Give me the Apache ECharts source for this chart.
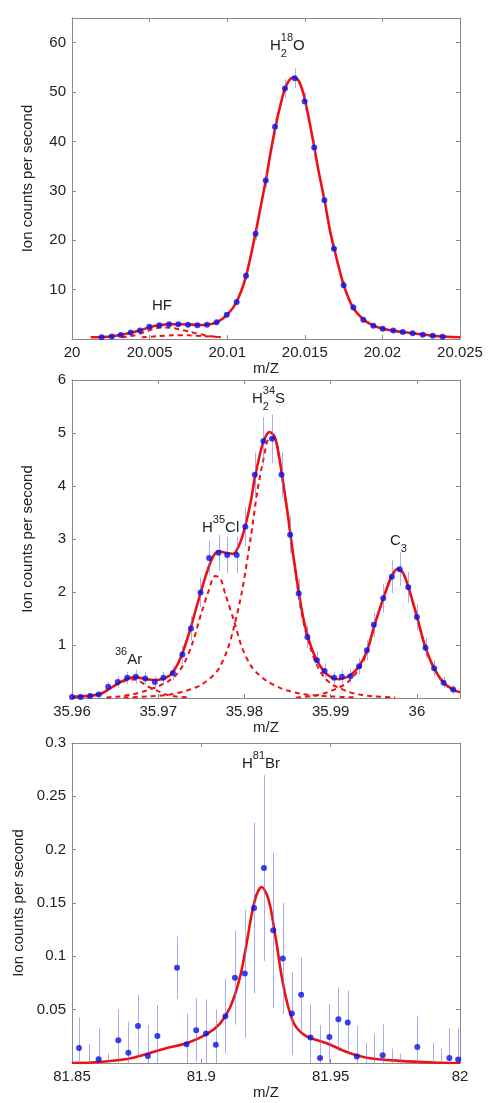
<!DOCTYPE html>
<html>
<head>
<meta charset="utf-8">
<title>Mass peaks</title>
<script src="https://cdn.jsdelivr.net/npm/echarts@6.0.0/dist/echarts.min.js"></script>
<style>
  html, body { margin: 0; padding: 0; background: #fff; }
  #chart { width: 500px; height: 1103px; }
</style>
</head>
<body>
<div id="chart"></div>
<script>
// ---- panel 1 : HF + H2 18O around m/Z 20 ----
var p1X = [20.00191, 20.00256, 20.00314, 20.00378, 20.00438, 20.00498, 20.00563, 20.00625, 20.00685, 20.00747, 20.00808, 20.0087, 20.00932, 20.00997, 20.01061, 20.01121, 20.01183, 20.01248, 20.01308, 20.01372, 20.01435, 20.01499, 20.01561, 20.01626, 20.01688, 20.0175, 20.01813, 20.01877, 20.01942, 20.02002, 20.0207, 20.02131, 20.02195, 20.0226, 20.02324, 20.02388];
var p1Y = [0.35, 0.5, 0.8, 1.3, 1.7, 2.5, 2.8, 3.0, 3.0, 2.9, 2.8, 2.9, 3.4, 4.9, 7.5, 12.8, 21.3, 32.1, 43.0, 50.7, 52.8, 48.1, 38.8, 28.1, 18.3, 10.9, 6.4, 3.9, 2.7, 2.1, 1.7, 1.4, 1.15, 0.87, 0.67, 0.46];
var p1Err = [0.15, 0.2, 0.25, 0.3, 0.35, 0.4, 0.4, 0.45, 0.45, 0.45, 0.4, 0.45, 0.45, 0.55, 0.7, 0.9, 1.2, 1.45, 1.7, 1.9, 2.0, 1.85, 1.6, 1.35, 1.1, 0.8, 0.65, 0.5, 0.4, 0.35, 0.35, 0.3, 0.3, 0.25, 0.2, 0.2];
var p1FitX = [20.0012, 20.0019, 20.0026, 20.0031, 20.0038, 20.0044, 20.005, 20.0056, 20.0063, 20.0069, 20.0075, 20.0081, 20.0087, 20.0093, 20.01, 20.0106, 20.0112, 20.0118, 20.0122, 20.0125, 20.0128, 20.0131, 20.0134, 20.0137, 20.014, 20.0143, 20.0146, 20.0149, 20.0152, 20.0156, 20.0159, 20.0163, 20.0166, 20.0169, 20.0175, 20.0181, 20.0188, 20.0194, 20.02, 20.0207, 20.0213, 20.022, 20.0226, 20.0232, 20.0239, 20.0245, 20.025];
var p1FitY = [0.35, 0.4, 0.55, 0.8, 1.25, 1.75, 2.4, 2.8, 3.0, 3.0, 2.95, 2.85, 2.9, 3.35, 4.9, 7.5, 12.6, 21.0, 27.5, 32.3, 37.8, 42.8, 47.0, 50.5, 52.4, 53.0, 52.3, 49.8, 45.6, 39.0, 33.8, 27.6, 22.3, 18.2, 11.0, 6.4, 3.9, 2.75, 2.1, 1.7, 1.4, 1.15, 0.9, 0.68, 0.5, 0.4, 0.35];
var p1HfX = [20.0032, 20.004, 20.0047, 20.0053, 20.0058, 20.0063, 20.0069, 20.0076, 20.0083, 20.009, 20.0096];
var p1HfY = [0.35, 0.7, 1.45, 2.1, 2.35, 2.3, 1.95, 1.45, 0.95, 0.55, 0.35];
var p1LowX = [20.0045, 20.0055, 20.0065, 20.0075, 20.0085, 20.0095];
var p1LowY = [0.35, 0.55, 0.75, 0.75, 0.55, 0.38];

// ---- panel 2 : 36Ar, H35Cl, H2 34S, C3 around m/Z 36 ----
var p2X = [35.96, 35.961, 35.9621, 35.9631, 35.9642, 35.9653, 35.9664, 35.9674, 35.9685, 35.9696, 35.9706, 35.9717, 35.9728, 35.9738, 35.9749, 35.9759, 35.977, 35.978, 35.9791, 35.9801, 35.9812, 35.9822, 35.9832, 35.9843, 35.9853, 35.9863, 35.9873, 35.9884, 35.9893, 35.9904, 35.9913, 35.9923, 35.9933, 35.9942, 35.995, 35.9961, 35.9971, 35.998, 35.999, 36.0, 36.001, 36.002, 36.0031, 36.0042];
var p2Y = [0.02, 0.02, 0.04, 0.065, 0.21, 0.3, 0.38, 0.4, 0.37, 0.3, 0.38, 0.47, 0.82, 1.31, 1.99, 2.64, 2.74, 2.7, 2.7, 3.23, 4.21, 4.85, 4.89, 4.21, 3.08, 1.97, 1.15, 0.71, 0.51, 0.38, 0.4, 0.41, 0.6, 0.9, 1.38, 1.88, 2.29, 2.43, 2.09, 1.53, 0.95, 0.56, 0.29, 0.16];
var p2Err = [0.03, 0.03, 0.04, 0.05, 0.09, 0.11, 0.12, 0.13, 0.12, 0.11, 0.12, 0.14, 0.18, 0.23, 0.28, 0.33, 0.34, 0.34, 0.34, 0.37, 0.42, 0.45, 0.46, 0.42, 0.35, 0.28, 0.21, 0.17, 0.14, 0.12, 0.13, 0.13, 0.15, 0.19, 0.23, 0.27, 0.31, 0.32, 0.29, 0.25, 0.19, 0.15, 0.11, 0.08];
var p2FitX = [35.96, 35.9612, 35.9625, 35.9635, 35.9645, 35.9655, 35.9665, 35.9675, 35.9685, 35.9695, 35.9705, 35.9715, 35.9725, 35.9735, 35.9745, 35.9755, 35.9763, 35.977, 35.9778, 35.9787, 35.9795, 35.9801, 35.9807, 35.9812, 35.9818, 35.9823, 35.9829, 35.9835, 35.984, 35.9845, 35.985, 35.9855, 35.986, 35.9865, 35.987, 35.9877, 35.9884, 35.9893, 35.9902, 35.991, 35.9918, 35.9925, 35.9933, 35.9942, 35.995, 35.9961, 35.9971, 35.9978, 35.9984, 35.999, 36.0, 36.001, 36.002, 36.0031, 36.0042, 36.005];
var p2FitY = [0.02, 0.03, 0.05, 0.09, 0.19, 0.29, 0.37, 0.39, 0.36, 0.34, 0.36, 0.45, 0.72, 1.18, 1.75, 2.3, 2.65, 2.77, 2.74, 2.72, 2.93, 3.25, 3.68, 4.15, 4.6, 4.88, 5.02, 4.93, 4.58, 4.05, 3.5, 2.88, 2.32, 1.8, 1.38, 0.98, 0.71, 0.49, 0.38, 0.355, 0.39, 0.46, 0.6, 0.88, 1.33, 1.88, 2.31, 2.44, 2.36, 2.1, 1.54, 0.95, 0.56, 0.29, 0.16, 0.11];
var p2ArX = [35.96, 35.962, 35.9635, 35.9645, 35.9655, 35.9665, 35.9672, 35.968, 35.969, 35.97, 35.971, 35.972, 35.9735];
var p2ArY = [0.02, 0.05, 0.09, 0.19, 0.28, 0.34, 0.35, 0.3, 0.2, 0.13, 0.06, 0.03, 0.01];
var p2ClX = [35.964, 35.9655, 35.967, 35.968, 35.969, 35.97, 35.9712, 35.972, 35.973, 35.974, 35.975, 35.9758, 35.9766, 35.9772, 35.9778, 35.9788, 35.9797, 35.9807, 35.9816, 35.9826, 35.984, 35.985, 35.9865, 35.988, 35.99, 35.993];
var p2ClY = [0.01, 0.03, 0.07, 0.11, 0.16, 0.22, 0.32, 0.42, 0.65, 1.05, 1.6, 2.0, 2.3, 2.26, 1.95, 1.45, 0.96, 0.62, 0.45, 0.32, 0.2, 0.14, 0.08, 0.05, 0.03, 0.01];
var p2SX = [35.966, 35.969, 35.9715, 35.9735, 35.975, 35.9768, 35.978, 35.9788, 35.9797, 35.9807, 35.9815, 35.9822, 35.9829, 35.9835, 35.984, 35.9845, 35.985, 35.9855, 35.986, 35.9865, 35.987, 35.9877, 35.9884, 35.9893, 35.9902, 35.991, 35.992, 35.9935, 35.995, 35.9975];
var p2SY = [0.01, 0.03, 0.07, 0.15, 0.25, 0.5, 0.9, 1.35, 2.0, 3.0, 3.9, 4.5, 4.9, 4.9, 4.55, 4.02, 3.47, 2.85, 2.28, 1.74, 1.32, 0.92, 0.62, 0.38, 0.25, 0.19, 0.12, 0.06, 0.03, 0.01];
var p2CX = [35.986, 35.988, 35.9895, 35.991, 35.992, 35.9933, 35.9942, 35.995, 35.9961, 35.9971, 35.9978, 35.9984, 35.999, 36.0, 36.001, 36.002, 36.0031, 36.0042, 36.005];
var p2CY = [0.01, 0.04, 0.1, 0.2, 0.3, 0.55, 0.86, 1.32, 1.87, 2.3, 2.43, 2.35, 2.09, 1.53, 0.94, 0.55, 0.28, 0.15, 0.1];

// ---- panel 3 : H81Br around m/Z 82 ----
var p3X = [81.8527, 81.8565, 81.8603, 81.864, 81.8679, 81.8718, 81.8755, 81.8793, 81.883, 81.8906, 81.8943, 81.898, 81.9018, 81.9056, 81.9093, 81.913, 81.9168, 81.9204, 81.9242, 81.9278, 81.9315, 81.935, 81.9386, 81.9422, 81.9459, 81.9495, 81.953, 81.9566, 81.9601, 81.9637, 81.9667, 81.9701, 81.9736, 81.9768, 81.9835, 81.9894, 81.9925, 81.9959, 81.9993];
var p3Y = [0.0141, -0.011, 0.0035, -0.02, 0.0213, 0.0097, 0.0347, 0.0066, 0.0253, 0.0894, 0.0175, 0.0307, 0.0276, 0.0172, 0.0438, 0.08, 0.0838, 0.1453, 0.1828, 0.1244, 0.0979, 0.0463, 0.0641, 0.0238, 0.0047, 0.0244, 0.041, 0.0379, 0.006, -0.01, -0.002, 0.0072, -0.0155, -0.02, 0.015, -0.01, -0.015, 0.0047, 0.0032];
var p3Err = [0.0285, 0.029, 0.029, 0.029, 0.029, 0.029, 0.029, 0.029, 0.029, 0.0294, 0.029, 0.03, 0.032, 0.033, 0.035, 0.044, 0.06, 0.08, 0.087, 0.073, 0.052, 0.039, 0.035, 0.032, 0.031, 0.031, 0.03, 0.03, 0.029, 0.029, 0.029, 0.029, 0.029, 0.029, 0.029, 0.029, 0.029, 0.028, 0.029];
var p3FitX = [81.85, 81.8608, 81.8737, 81.8866, 81.8943, 81.9021, 81.9072, 81.9111, 81.9149, 81.9175, 81.9195, 81.9214, 81.9233, 81.9253, 81.9268, 81.9276, 81.9291, 81.9311, 81.9336, 81.9362, 81.9407, 81.9485, 81.9562, 81.9639, 81.9768, 81.9897, 82.0];
var p3FitY = [0.0, 0.001, 0.005, 0.014, 0.0185, 0.027, 0.037, 0.052, 0.08, 0.112, 0.14, 0.158, 0.165, 0.158, 0.145, 0.134, 0.112, 0.0806, 0.0525, 0.0353, 0.025, 0.0185, 0.0103, 0.005, 0.002, 0.0005, 0.0];

var RED = '#ee1111';
var BLUE = '#0a10e8';
var BAR = 'rgba(110, 120, 240, 0.6)';
var BOX = '#8a8a8a';
var FONT = '"Liberation Sans", Arial, sans-serif';

function zip(xs, ys) {
  return xs.map(function (x, i) { return [x, ys[i]]; });
}
function bars(xs, ys, es) {
  return xs.map(function (x, i) { return [x, ys[i] - es[i], ys[i] + es[i]]; });
}

// vertical error bar, clipped to the plot box
function renderBar(params, api) {
  var lo = api.coord([api.value(0), api.value(1)]);
  var hi = api.coord([api.value(0), api.value(2)]);
  var cs = params.coordSys;
  var y1 = Math.max(hi[1], cs.y);
  var y2 = Math.min(lo[1], cs.y + cs.height);
  if (y2 <= y1 || lo[0] < cs.x - 1 || lo[0] > cs.x + cs.width + 1) return;
  var x = Math.round(lo[0]) + 0.5;
  return {
    type: 'line',
    shape: { x1: x, y1: y1, x2: x, y2: y2 },
    style: { stroke: BAR, lineWidth: 1 }
  };
}

var grids = [
  { left: 72, top: 18, width: 388, height: 321 },
  { left: 72, top: 380, width: 388, height: 318 },
  { left: 72, top: 743, width: 388, height: 320 }
];
grids.forEach(function (g) { g.containLabel = false; g.outerBoundsMode = 'none'; });

var labelStyle = { color: '#222', fontSize: 15, fontFamily: FONT };

function axisPair(dim, gi, min, max, step, opts) {
  var base = {
    gridIndex: gi, type: 'value', min: min, max: max, interval: step,
    splitLine: { show: false },
    axisLine: { show: true, onZero: false, lineStyle: { color: BOX, width: 1 } },
    axisTick: { show: true, inside: true, length: 4, lineStyle: { color: BOX } }
  };
  var main = Object.assign({}, base, {
    position: dim === 'x' ? 'bottom' : 'left',
    axisLabel: Object.assign({ margin: 6, showMinLabel: opts.showMin, showMaxLabel: opts.showMax }, labelStyle),
    name: opts.name, nameLocation: 'middle', nameGap: opts.gap,
    nameTextStyle: labelStyle
  });
  var other = Object.assign({}, base, {
    position: dim === 'x' ? 'top' : 'right',
    axisLabel: { show: false }
  });
  return [main, other];
}

var xAxes = [].concat(
  axisPair('x', 0, 20, 20.025, 0.005, { name: 'm/Z', gap: 19, showMin: true, showMax: true }),
  axisPair('x', 1, 35.96, 36.005, 0.01, { name: 'm/Z', gap: 19, showMin: true, showMax: false }),
  axisPair('x', 2, 81.85, 82, 0.05, { name: 'm/Z', gap: 19, showMin: true, showMax: true })
);
var yAxes = [].concat(
  axisPair('y', 0, 0, 65, 10, { name: 'Ion counts per second', gap: 37, showMin: false, showMax: false }),
  axisPair('y', 1, 0, 6, 1, { name: 'Ion counts per second', gap: 37, showMin: false, showMax: true }),
  axisPair('y', 2, 0, 0.3, 0.05, { name: 'Ion counts per second', gap: 37, showMin: false, showMax: true })
);

function compLine(gi, xs, ys) {
  return {
    type: 'line', xAxisIndex: 2 * gi, yAxisIndex: 2 * gi,
    data: zip(xs, ys), showSymbol: false, smooth: 0.3, silent: true, z: 1,
    lineStyle: { color: RED, width: 2, type: [5, 4] }
  };
}
function fitLine(gi, xs, ys) {
  return {
    type: 'line', xAxisIndex: 2 * gi, yAxisIndex: 2 * gi,
    data: zip(xs, ys), showSymbol: false, smooth: 0.3, silent: true, z: 2,
    lineStyle: { color: RED, width: 2.6 }
  };
}
function errSeries(gi, xs, ys, es) {
  return {
    type: 'custom', xAxisIndex: 2 * gi, yAxisIndex: 2 * gi,
    renderItem: renderBar, data: bars(xs, ys, es),
    encode: { x: 0, y: [1, 2] }, silent: true, z: 3
  };
}
function dots(gi, xs, ys) {
  return {
    type: 'scatter', xAxisIndex: 2 * gi, yAxisIndex: 2 * gi,
    data: zip(xs, ys), symbol: 'circle', symbolSize: 6, clip: true, silent: true, z: 4,
    itemStyle: { color: BLUE }
  };
}

// peak labels with sub/superscripts
var ctx = document.createElement('canvas').getContext('2d');
function tw(t, size) {
  ctx.font = size + 'px ' + FONT;
  return ctx.measureText(t).width;
}
function txt(t, x, y, size) {
  return {
    type: 'text', x: x, y: y, z: 10, silent: true,
    style: { text: t, fill: '#222', font: size + 'px ' + FONT,
      textAlign: 'left', align: 'left', textVerticalAlign: 'middle', verticalAlign: 'middle' }
  };
}
function chem(x, cy, parts) {
  var out = [];
  parts.forEach(function (p) {
    if (typeof p === 'string') {
      out.push(txt(p, x, cy, 15));
      x += tw(p, 15);
    } else {
      var w = 0;
      if (p.sup) { out.push(txt(p.sup, x, cy - 8, 11)); w = tw(p.sup, 11); }
      if (p.sub) { out.push(txt(p.sub, x, cy + 7.5, 11)); w = Math.max(w, tw(p.sub, 11)); }
      x += w;
    }
  });
  return out;
}

var labels = [].concat(
  chem(270, 46, ['H', { sub: '2', sup: '18' }, 'O']),
  chem(152, 305.5, ['HF']),
  chem(252, 399, ['H', { sub: '2', sup: '34' }, 'S']),
  chem(202, 527.5, ['H', { sup: '35' }, 'Cl']),
  chem(390, 541, ['C', { sub: '3' }]),
  chem(115, 660, [{ sup: '36' }, 'Ar']),
  chem(242, 764, ['H', { sup: '81' }, 'Br'])
);

var chart = echarts.init(document.getElementById('chart'));
chart.setOption({
  animation: false,
  backgroundColor: '#fff',
  grid: grids,
  xAxis: xAxes,
  yAxis: yAxes,
  graphic: { elements: labels },
  series: [
    compLine(0, p1HfX, p1HfY),
    compLine(0, p1LowX, p1LowY),
    fitLine(0, p1FitX, p1FitY),
    errSeries(0, p1X, p1Y, p1Err),
    dots(0, p1X, p1Y),

    compLine(1, p2ArX, p2ArY),
    compLine(1, p2ClX, p2ClY),
    compLine(1, p2SX, p2SY),
    compLine(1, p2CX, p2CY),
    fitLine(1, p2FitX, p2FitY),
    errSeries(1, p2X, p2Y, p2Err),
    dots(1, p2X, p2Y),

    fitLine(2, p3FitX, p3FitY),
    errSeries(2, p3X, p3Y, p3Err),
    dots(2, p3X, p3Y)
  ]
});
</script>
</body>
</html>
